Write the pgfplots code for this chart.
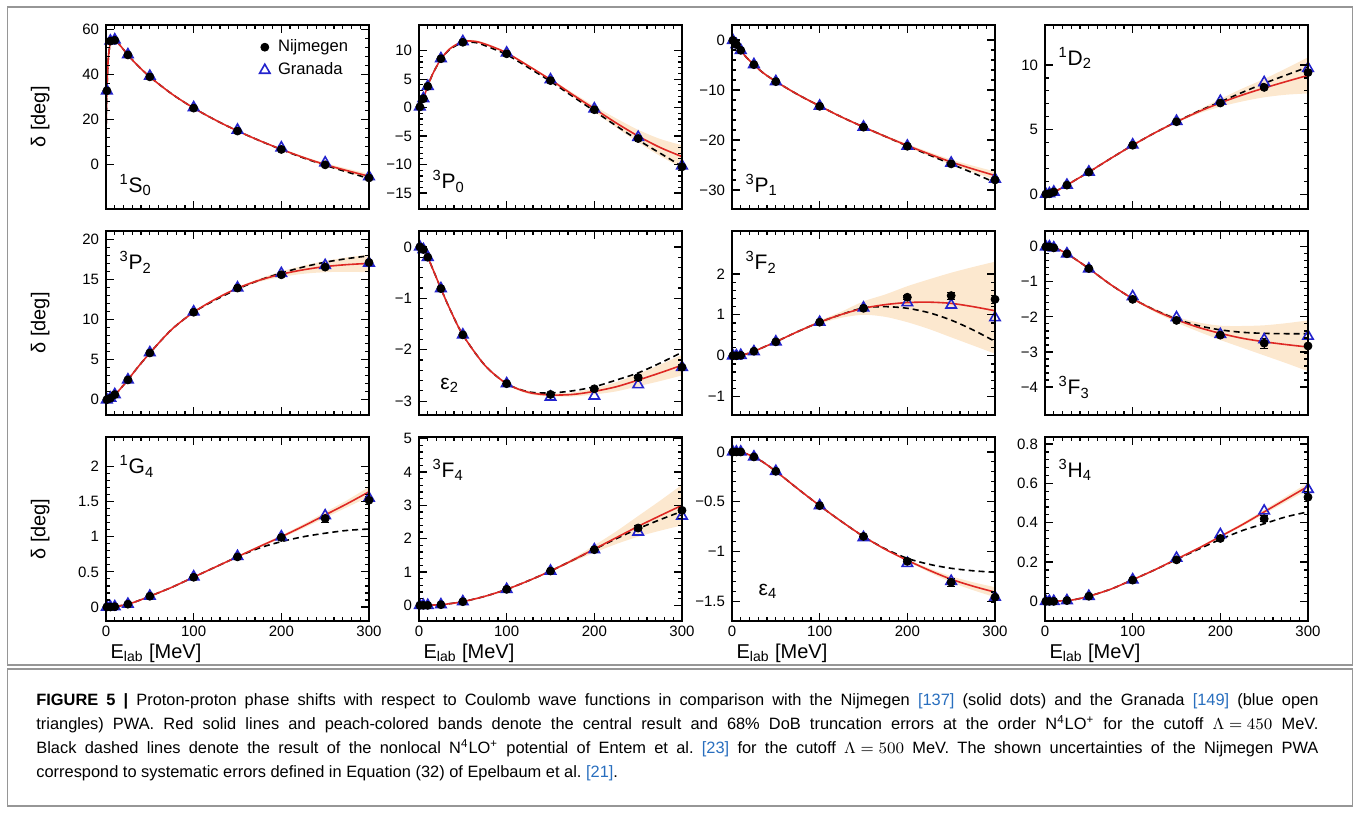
\documentclass[border=0pt]{standalone}
\usepackage{pgfplots}
\pgfplotsset{compat=1.18}
\usepackage{pgfplotstable}
\usepgfplotslibrary{fillbetween}
\usepackage{fontspec}
\setmainfont{Liberation Sans}

\definecolor{nlored}{RGB}{222,40,36}
\definecolor{peach}{RGB}{252,232,207}
\definecolor{granblue}{RGB}{35,35,205}
\definecolor{framegray}{RGB}{150,150,150}
\definecolor{refblue}{RGB}{40,110,190}

% ---------- curves: E, N4LO+ (r), Entem et al. (d), band low/high ----------
\pgfplotstableread{
E r d lo hi
0.3 18.0 18.0 17.8 18.2
0.6 26.5 26.5 26.3 26.7
1 32.7 32.7 32.5 32.9
2 43.0 43.0 42.8 43.2
3 48.8 48.8 48.6 49.0
5 54.3 54.3 54.1 54.5
7 55.6 55.6 55.4 55.8
10 55.3 55.3 55.1 55.5
15 53.4 53.4 53.2 53.6
25 48.7 48.7 48.5 48.9
35 44.4 44.4 44.2 44.6
50 38.9 38.9 38.7 39.1
75 31.3 31.3 31.1 31.5
100 25.0 25.0 24.8 25.2
125 19.6 19.6 19.4 19.8
150 14.8 14.8 14.6 15.0
175 10.5 10.5 10.3 10.7
200 6.6 6.5 6.2 7.0
225 3.0 2.8 2.5 3.5
250 -0.2 -0.5 -0.9 0.5
275 -2.9 -3.5 -3.8 -2.0
300 -5.4 -6.4 -6.5 -4.3
}\cSzero
\pgfplotstableread{
E r d lo hi
0 0 0 0 0
1 0.15 0.15 0.1 0.2
3 0.9 0.9 0.8 1.0
5 1.6 1.6 1.5 1.7
10 3.8 3.8 3.7 3.9
15 5.7 5.7 5.6 5.8
20 7.2 7.2 7.1 7.3
25 8.5 8.5 8.4 8.6
35 10.3 10.2 10.1 10.5
50 11.6 11.4 11.4 11.8
65 11.6 11.4 11.4 11.8
80 10.9 10.6 10.7 11.1
100 9.6 9.3 9.4 9.8
125 7.3 7.0 7.1 7.5
150 4.9 4.6 4.7 5.1
175 2.3 2.0 1.95 2.65
200 -0.2 -0.6 -0.7 0.3
225 -2.7 -3.2 -3.5 -1.9
250 -5.0 -5.7 -6.1 -3.9
275 -7.0 -8.0 -8.5 -5.5
300 -8.6 -10.3 -10.6 -6.6
}\cPzero
\pgfplotstableread{
E r d lo hi
0 0 0 0 0
1 -0.08 -0.08 -0.1 -0.06
5 -0.9 -0.9 -1.0 -0.8
10 -2.06 -2.06 -2.2 -1.9
15 -3.2 -3.2 -3.4 -3.0
25 -4.93 -4.93 -5.1 -4.75
35 -6.5 -6.5 -6.7 -6.3
50 -8.3 -8.3 -8.5 -8.1
75 -10.9 -10.9 -11.1 -10.7
100 -13.2 -13.2 -13.4 -13.0
125 -15.4 -15.4 -15.6 -15.2
150 -17.4 -17.4 -17.6 -17.2
175 -19.3 -19.3 -19.55 -19.05
200 -21.1 -21.2 -21.4 -20.8
225 -22.8 -23.0 -23.2 -22.4
250 -24.4 -24.8 -24.9 -23.9
275 -25.8 -26.6 -26.45 -25.15
300 -27.1 -28.5 -27.9 -26.3
}\cPone
\pgfplotstableread{
E r d lo hi
0 0 0 0 0
5 0.04 0.04 0.0 0.08
10 0.17 0.17 0.12 0.22
15 0.33 0.33 0.28 0.38
25 0.70 0.70 0.65 0.75
35 1.11 1.11 1.06 1.16
50 1.71 1.71 1.66 1.76
75 2.77 2.77 2.72 2.82
100 3.79 3.79 3.74 3.84
125 4.74 4.74 4.68 4.80
150 5.60 5.61 5.52 5.68
175 6.38 6.42 6.23 6.53
200 7.07 7.15 6.77 7.37
225 7.68 7.88 7.18 8.18
250 8.22 8.58 7.5 8.92
275 8.72 9.22 7.7 9.74
300 9.20 9.85 7.8 10.6
}\cDtwo
\pgfplotstableread{
E r d lo hi
0 0 0 0 0
5 0.21 0.21 0.16 0.26
10 0.65 0.65 0.6 0.7
15 1.2 1.2 1.15 1.25
25 2.49 2.49 2.44 2.54
35 3.9 3.9 3.85 3.95
50 5.85 5.85 5.8 5.9
75 8.8 8.8 8.75 8.85
100 10.95 10.95 10.85 11.05
125 12.6 12.5 12.5 12.7
150 13.95 13.85 13.82 14.08
175 14.95 14.95 14.75 15.15
200 15.7 15.85 15.35 16.05
225 16.25 16.6 15.75 16.75
250 16.65 17.2 15.95 17.35
275 16.9 17.65 16.0 17.8
300 17.05 18.0 15.95 18.15
}\cPtwo
\pgfplotstableread{
E r d lo hi
0 0 0 0 0
5 -0.05 -0.05 -0.06 -0.04
10 -0.2 -0.2 -0.21 -0.19
15 -0.4 -0.4 -0.41 -0.39
25 -0.81 -0.81 -0.82 -0.8
35 -1.2 -1.2 -1.21 -1.19
50 -1.71 -1.71 -1.72 -1.7
75 -2.3 -2.3 -2.31 -2.29
100 -2.66 -2.66 -2.68 -2.64
125 -2.83 -2.82 -2.86 -2.80
150 -2.88 -2.84 -2.91 -2.85
175 -2.87 -2.80 -2.91 -2.83
200 -2.81 -2.72 -2.87 -2.75
225 -2.72 -2.59 -2.81 -2.63
250 -2.59 -2.45 -2.71 -2.47
275 -2.45 -2.26 -2.61 -2.29
300 -2.3 -2.05 -2.5 -2.1
}\cEtwo
\pgfplotstableread{
E r d lo hi
0 0 0 0 0
5 0.002 0.002 0 0.004
10 0.013 0.013 0.01 0.016
15 0.035 0.035 0.03 0.04
25 0.105 0.105 0.1 0.11
35 0.2 0.2 0.19 0.21
50 0.34 0.34 0.33 0.35
75 0.59 0.59 0.57 0.61
100 0.82 0.82 0.78 0.86
125 1.01 1.01 0.93 1.08
150 1.16 1.17 1.0 1.33
175 1.25 1.2 0.95 1.5
200 1.3 1.16 0.82 1.7
225 1.31 1.05 0.65 1.87
250 1.28 0.87 0.45 2.03
275 1.2 0.63 0.25 2.17
300 1.1 0.35 0.05 2.3
}\cFtwo
\pgfplotstableread{
E r d lo hi
0 0 0 0 0
5 -0.004 -0.004 -0.006 -0.002
10 -0.026 -0.026 -0.03 -0.022
15 -0.07 -0.07 -0.075 -0.065
25 -0.196 -0.196 -0.2 -0.19
35 -0.36 -0.36 -0.37 -0.35
50 -0.62 -0.62 -0.63 -0.61
75 -1.08 -1.08 -1.1 -1.06
100 -1.48 -1.48 -1.51 -1.45
125 -1.81 -1.80 -1.86 -1.76
150 -2.08 -2.06 -2.16 -2.0
175 -2.3 -2.25 -2.42 -2.16
200 -2.47 -2.37 -2.66 -2.25
225 -2.61 -2.44 -2.88 -2.26
250 -2.71 -2.47 -3.1 -2.24
275 -2.79 -2.48 -3.32 -2.18
300 -2.86 -2.48 -3.55 -2.1
}\cFthree
\pgfplotstableread{
E r d lo hi
0 0 0 0 0
10 0.004 0.004 0.003 0.005
25 0.04 0.04 0.038 0.042
35 0.08 0.08 0.078 0.082
50 0.153 0.153 0.15 0.156
75 0.28 0.28 0.277 0.283
100 0.425 0.425 0.42 0.43
125 0.57 0.57 0.565 0.575
150 0.715 0.713 0.705 0.725
175 0.86 0.84 0.845 0.875
200 1.0 0.93 0.98 1.02
225 1.15 1.0 1.12 1.18
250 1.31 1.05 1.27 1.35
275 1.47 1.09 1.42 1.52
300 1.64 1.11 1.57 1.71
}\cGfour
\pgfplotstableread{
E r d lo hi
0 0 0 0 0
10 0.001 0.001 0 0.002
25 0.02 0.02 0.018 0.022
35 0.05 0.05 0.048 0.052
50 0.11 0.11 0.105 0.115
75 0.27 0.27 0.265 0.275
100 0.48 0.48 0.47 0.49
125 0.74 0.74 0.72 0.76
150 1.03 1.03 1.0 1.06
175 1.35 1.35 1.3 1.4
200 1.69 1.68 1.58 1.8
225 2.03 2.0 1.84 2.22
250 2.37 2.3 2.06 2.68
275 2.69 2.57 2.24 3.14
300 3.0 2.82 2.4 3.62
}\cFfour
\pgfplotstableread{
E r d lo hi
0 0 0 0 0
10 -0.001 -0.001 -0.002 0
25 -0.049 -0.049 -0.051 -0.047
35 -0.1 -0.1 -0.102 -0.098
50 -0.195 -0.195 -0.198 -0.192
75 -0.37 -0.37 -0.373 -0.367
100 -0.54 -0.54 -0.545 -0.535
125 -0.7 -0.7 -0.706 -0.694
150 -0.85 -0.85 -0.857 -0.843
175 -0.98 -0.975 -0.99 -0.97
200 -1.09 -1.07 -1.1 -1.08
225 -1.19 -1.13 -1.21 -1.17
250 -1.28 -1.17 -1.31 -1.25
275 -1.35 -1.195 -1.39 -1.31
300 -1.41 -1.21 -1.46 -1.36
}\cEfour
\pgfplotstableread{
E r d lo hi
0 0 0 0 0
25 0.004 0.004 0.003 0.005
35 0.01 0.01 0.009 0.011
50 0.026 0.026 0.025 0.027
75 0.062 0.062 0.061 0.063
100 0.11 0.11 0.108 0.112
125 0.16 0.16 0.157 0.163
150 0.215 0.213 0.211 0.219
175 0.27 0.265 0.265 0.275
200 0.33 0.315 0.324 0.336
225 0.39 0.36 0.382 0.398
250 0.455 0.395 0.444 0.466
275 0.52 0.43 0.506 0.534
300 0.585 0.455 0.567 0.603
}\cHfour

% ---------- PWA points: E, Nijmegen (N) with error (Ne), Granada (G) ----------
\pgfplotstableread{
E N Ne G
1 32.68 0 32.7
5 54.83 0 54.9
10 55.22 0 55.4
25 48.67 0 48.8
50 38.90 0 39.2
100 24.97 0 25.2
150 14.75 0 15.2
200 6.55 0 7.3
250 -0.31 0 0.6
300 -6.15 0 -5.6
}\pSzero
\pgfplotstableread{
E N Ne G
1 0.13 0 0.13
5 1.58 0 1.6
10 3.73 0 3.75
25 8.58 0 8.6
50 11.47 0 11.6
100 9.45 0 9.6
150 4.74 0 4.9
200 -0.37 0 -0.2
250 -5.43 0 -5.2
300 -10.39 0 -10.2
}\pPzero
\pgfplotstableread{
E N Ne G
1 -0.08 0 -0.08
5 -0.90 0 -0.9
10 -2.06 0 -2.05
25 -4.93 0 -4.9
50 -8.32 0 -8.3
100 -13.26 0 -13.2
150 -17.43 0 -17.4
200 -21.25 0 -21.2
250 -24.77 0 -24.6
300 -27.99 0 -27.8
}\pPone
\pgfplotstableread{
E N Ne G
1 0.00 0 0.00
5 0.04 0 0.04
10 0.17 0 0.17
25 0.70 0 0.70
50 1.71 0 1.72
100 3.79 0 3.82
150 5.61 0 5.65
200 7.06 0 7.2
250 8.27 0.1 8.65
300 9.42 0.15 9.75
}\pDtwo
\pgfplotstableread{
E N Ne G
1 0.01 0 0.01
5 0.21 0 0.22
10 0.65 0 0.66
25 2.49 0 2.5
50 5.86 0 5.9
100 10.95 0 11.0
150 13.97 0 14.0
200 15.63 0 15.8
250 16.59 0 16.8
300 17.17 0 17.1
}\pPtwo
\pgfplotstableread{
E N Ne G
1 0.00 0 0.00
5 -0.05 0 -0.05
10 -0.20 0 -0.20
25 -0.81 0 -0.81
50 -1.71 0 -1.71
100 -2.66 0 -2.66
150 -2.87 0 -2.92
200 -2.76 0.03 -2.90
250 -2.54 0.05 -2.68
300 -2.34 0.05 -2.34
}\pEtwo
\pgfplotstableread{
E N Ne G
1 0.00 0 0.00
5 0.00 0 0.00
10 0.01 0 0.01
25 0.11 0 0.10
50 0.34 0 0.34
100 0.82 0 0.82
150 1.16 0 1.17
200 1.43 0.05 1.30
250 1.47 0.09 1.24
300 1.38 0.1 0.93
}\pFtwo
\pgfplotstableread{
E N Ne G
1 0.00 0 0.00
5 0.00 0 0.00
10 -0.03 0 -0.03
25 -0.20 0 -0.20
50 -0.62 0 -0.63
100 -1.50 0 -1.42
150 -2.10 0 -2.02
200 -2.52 0.05 -2.50
250 -2.75 0.15 -2.65
300 -2.83 0.2 -2.55
}\pFthree
\pgfplotstableread{
E N Ne G
1 0 0 0
5 0 0 0
10 0.004 0 0.004
25 0.04 0 0.04
50 0.153 0 0.155
100 0.423 0 0.43
150 0.713 0 0.72
200 0.99 0.02 1.0
250 1.26 0.05 1.30
300 1.52 0.06 1.55
}\pGfour
\pgfplotstableread{
E N Ne G
1 0 0 0
5 0 0 0
10 0 0 0
25 0.02 0 0.02
50 0.11 0 0.11
100 0.48 0 0.48
150 1.03 0 1.03
200 1.67 0.03 1.67
250 2.32 0.08 2.2
300 2.85 0.15 2.68
}\pFfour
\pgfplotstableread{
E N Ne G
1 0 0 0
5 0 0 0
10 0 0 0
25 -0.05 0 -0.05
50 -0.195 0 -0.195
100 -0.54 0 -0.54
150 -0.85 0 -0.86
200 -1.10 0.02 -1.12
250 -1.31 0.04 -1.30
300 -1.46 0.05 -1.46
}\pEfour
\pgfplotstableread{
E N Ne G
1 0 0 0
5 0 0 0
10 0 0 0
25 0.004 0 0.004
50 0.026 0 0.026
100 0.108 0 0.11
150 0.211 0 0.22
200 0.32 0.01 0.34
250 0.42 0.015 0.46
300 0.53 0.02 0.57
}\pHfour

\tikzset{wavelabel/.style={anchor=west, font=\fontsize{10.5}{12}\selectfont, inner sep=0pt}}

\pgfplotsset{
  panel/.style={
    scale only axis, width=131.5pt, height=92pt,
    anchor=south west,
    xmin=0, xmax=300, xtick={0,100,200,300}, xticklabels={},
    minor x tick num=9, minor y tick num=4,
    tick align=inside,
    major tick length=4pt, minor tick length=2pt,
    axis line style={line width=0.9pt},
    every tick/.append style={line width=0.6pt, black},
    tick label style={font=\fontsize{7.5}{9}\selectfont},
    xticklabel style={yshift=1pt},
    label style={font=\fontsize{7.5}{9}\selectfont},
    every axis y label/.style={at={(axis description cs:-0.25,0.5)}, rotate=90, anchor=center},
    every axis x label/.style={at={(axis description cs:0.19,-0.175)}, anchor=center},
    axis on top,
  },
  bottomrow/.style={xticklabels={0,100,200,300}, xlabel={E\textsubscript{lab} [MeV]}},
  leftcol/.style={ylabel={δ [deg]}},
}

% band, Entem et al. curve, N4LO+ curve, Granada and Nijmegen points
\newcommand\phaseplots[2]{%
  \addplot[name path=bandhi, draw=none, smooth, forget plot] table[x=E,y=hi]{#1};
  \addplot[name path=bandlo, draw=none, smooth, forget plot] table[x=E,y=lo]{#1};
  \addplot[peach, forget plot] fill between[of=bandhi and bandlo];
  \addplot[black, line width=0.8pt, dash pattern=on 3pt off 2pt, smooth, forget plot] table[x=E,y=d]{#1};
  \addplot[nlored, line width=0.8pt, smooth, forget plot] table[x=E,y=r]{#1};
  \addplot[only marks, mark=triangle, mark size=3pt, granblue,
    mark options={line width=0.8pt}] table[x=E,y=G]{#2};
  \addplot[only marks, mark=*, mark size=2pt, black,
    error bars/.cd, y dir=both, y explicit,
    error bar style={line width=0.6pt, black}] table[x=E,y=N,y error=Ne]{#2};
}

\begin{document}
\begin{tikzpicture}
\path (0,0) rectangle (680pt,-410.5pt);
\draw[framegray, line width=0.9pt] (3.75pt,-3.5pt) rectangle (676.25pt,-332.5pt);
\draw[framegray, line width=0.9pt] (3.75pt,-334.5pt) rectangle (676.25pt,-403pt);

% ---- row 1 ----
\begin{axis}[panel, leftcol, at={(53pt,-104.5pt)},
  ymin=-20, ymax=62, ytick={0,20,40,60}, yticklabels={0,20,40,60},
  legend style={draw=none, fill=none, at={(0.575,0.955)}, anchor=north west,
    font=\fontsize{8.3}{10}\selectfont, row sep=0pt, inner sep=1pt,
    nodes={inner xsep=4pt}},
  legend cell align=left, reverse legend]
\phaseplots{\cSzero}{\pSzero}
\addlegendentry{Granada}
\addlegendentry{Nijmegen}
\node[wavelabel] at (axis description cs:0.05,0.13) {\textsuperscript{1}S\textsubscript{0}};
\end{axis}

\begin{axis}[panel, at={(209.5pt,-104.5pt)},
  ymin=-17.8, ymax=14.5, ytick={-15,-10,-5,0,5,10}, yticklabels={−15,−10,−5,0,5,10}]
\phaseplots{\cPzero}{\pPzero}
\node[wavelabel] at (axis description cs:0.05,0.15) {\textsuperscript{3}P\textsubscript{0}};
\end{axis}

\begin{axis}[panel, at={(366pt,-104.5pt)},
  ymin=-33.8, ymax=3, ytick={-30,-20,-10,0}, yticklabels={−30,−20,−10,0}]
\phaseplots{\cPone}{\pPone}
\node[wavelabel] at (axis description cs:0.05,0.13) {\textsuperscript{3}P\textsubscript{1}};
\end{axis}

\begin{axis}[panel, at={(522.5pt,-104.5pt)},
  ymin=-1.15, ymax=13.1, ytick={0,5,10}, yticklabels={0,5,10}]
\phaseplots{\cDtwo}{\pDtwo}
\node[wavelabel] at (axis description cs:0.05,0.82) {\textsuperscript{1}D\textsubscript{2}};
\end{axis}

% ---- row 2 ----
\begin{axis}[panel, leftcol, at={(53pt,-207.5pt)},
  ymin=-1.9, ymax=21.1, ytick={0,5,10,15,20}, yticklabels={0,5,10,15,20}]
\phaseplots{\cPtwo}{\pPtwo}
\node[wavelabel] at (axis description cs:0.05,0.83) {\textsuperscript{3}P\textsubscript{2}};
\end{axis}

\begin{axis}[panel, at={(209.5pt,-207.5pt)},
  ymin=-3.27, ymax=0.31, ytick={-3,-2,-1,0}, yticklabels={−3,−2,−1,0}]
\phaseplots{\cEtwo}{\pEtwo}
\node[wavelabel] at (axis description cs:0.08,0.16) {ε\textsubscript{2}};
\end{axis}

\begin{axis}[panel, at={(366pt,-207.5pt)},
  ymin=-1.45, ymax=3.05, ytick={-1,0,1,2}, yticklabels={−1,0,1,2}]
\phaseplots{\cFtwo}{\pFtwo}
\node[wavelabel] at (axis description cs:0.05,0.83) {\textsuperscript{3}F\textsubscript{2}};
\end{axis}

\begin{axis}[panel, at={(522.5pt,-207.5pt)},
  ymin=-4.8, ymax=0.45, ytick={-4,-3,-2,-1,0}, yticklabels={−4,−3,−2,−1,0}]
\phaseplots{\cFthree}{\pFthree}
\node[wavelabel] at (axis description cs:0.05,0.15) {\textsuperscript{3}F\textsubscript{3}};
\end{axis}

% ---- row 3 ----
\begin{axis}[panel, leftcol, bottomrow, at={(53pt,-310.5pt)},
  ymin=-0.2, ymax=2.42, ytick={0,0.5,1,1.5,2}, yticklabels={0,0.5,1,1.5,2}]
\phaseplots{\cGfour}{\pGfour}
\node[wavelabel] at (axis description cs:0.05,0.84) {\textsuperscript{1}G\textsubscript{4}};
\end{axis}

\begin{axis}[panel, bottomrow, at={(209.5pt,-310.5pt)},
  ymin=-0.47, ymax=5.05, ytick={0,1,2,3,4,5}, yticklabels={0,1,2,3,4,5}]
\phaseplots{\cFfour}{\pFfour}
\node[wavelabel] at (axis description cs:0.05,0.82) {\textsuperscript{3}F\textsubscript{4}};
\end{axis}

\begin{axis}[panel, bottomrow, at={(366pt,-310.5pt)},
  ymin=-1.7, ymax=0.15, ytick={-1.5,-1,-0.5,0}, yticklabels={−1.5,−1,−0.5,0}]
\phaseplots{\cEfour}{\pEfour}
\node[wavelabel] at (axis description cs:0.1,0.16) {ε\textsubscript{4}};
\end{axis}

\begin{axis}[panel, bottomrow, at={(522.5pt,-310.5pt)},
  ymin=-0.1, ymax=0.836, ytick={0,0.2,0.4,0.6,0.8}, yticklabels={0,0.2,0.4,0.6,0.8}]
\phaseplots{\cHfour}{\pHfour}
\node[wavelabel] at (axis description cs:0.05,0.82) {\textsuperscript{3}H\textsubscript{4}};
\end{axis}

% ---- caption ----
\begin{scope}[every node/.style={anchor=base west, inner sep=0pt, font=\fontsize{8.2}{12}\selectfont}]
\node at (18pt,-352.5pt) {\makebox[641pt][s]{\textbf{FIGURE 5 |} Proton-proton phase shifts with respect to Coulomb wave functions in comparison with the Nijmegen {\color{refblue}[137]} (solid dots) and the Granada {\color{refblue}[149]} (blue open}};
\node at (18pt,-364.5pt) {\makebox[641pt][s]{triangles) PWA. Red solid lines and peach-colored bands denote the central result and 68\% DoB truncation errors at the order N\textsuperscript{4}LO\textsuperscript{+} for the cutoff \mbox{$\Lambda = 450$} MeV.}};
\node at (18pt,-376.5pt) {\makebox[641pt][s]{Black dashed lines denote the result of the nonlocal N\textsuperscript{4}LO\textsuperscript{+} potential of Entem et al.\ {\color{refblue}[23]} for the cutoff \mbox{$\Lambda = 500$} MeV. The shown uncertainties of the Nijmegen PWA}};
\node at (18pt,-388.5pt) {correspond to systematic errors defined in Equation (32) of Epelbaum et al.\ {\color{refblue}[21]}.};
\end{scope}
\end{tikzpicture}
\end{document}
